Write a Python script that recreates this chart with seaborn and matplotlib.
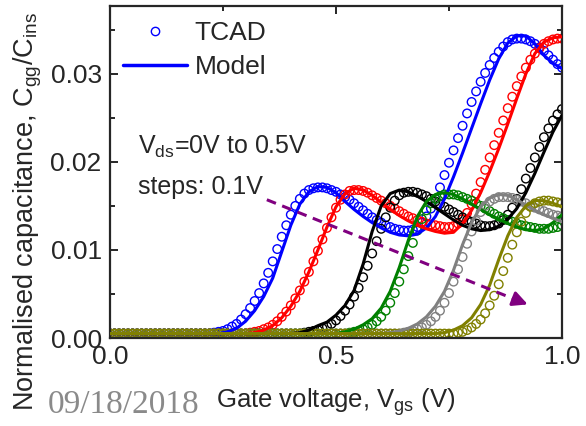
import matplotlib
matplotlib.use("Agg")
import matplotlib.pyplot as plt
from matplotlib.lines import Line2D
from matplotlib.ticker import MultipleLocator, FormatStrFormatter
import numpy as np
import pandas as pd
import seaborn as sns

# Vds sweep 0 V .. 0.5 V, one colour per step
VDS_LABELS = ["0.0", "0.1", "0.2", "0.3", "0.4", "0.5"]
COLORS = ["#0000FF", "#FF0000", "#000000", "#008000", "#808080", "#808000"]

# gate voltage grids (TCAD every 10 mV, model every 20 mV)
VGS_TCAD = np.round(np.arange(101) * 0.01, 2)
VGS_MODEL = np.round(np.arange(51) * 0.02, 2)

# TCAD points, Cgg/Cins
TCAD_VDS_00 = [0.0005] * 23 + [
    0.0006, 0.0007, 0.0008, 0.0010, 0.0013, 0.0016, 0.0021, 0.0027, 0.0034, 0.0042,
    0.0051, 0.0062, 0.0074, 0.0087, 0.0101, 0.0115, 0.0128, 0.0140, 0.0150, 0.0158,
    0.0164, 0.0168, 0.0170, 0.0171, 0.0171, 0.0170, 0.0168, 0.0166, 0.0163, 0.0160,
    0.0157, 0.0153, 0.0149, 0.0145, 0.0141, 0.0137, 0.0134, 0.0131, 0.0128, 0.0126,
    0.0124, 0.0123, 0.0122, 0.0122, 0.0123, 0.0126, 0.0131, 0.0138, 0.0147, 0.0158,
    0.0171, 0.0185, 0.0199, 0.0213, 0.0227, 0.0241, 0.0255, 0.0268, 0.0280, 0.0291,
    0.0301, 0.0310, 0.0318, 0.0325, 0.0331, 0.0336, 0.0339, 0.0340, 0.0340, 0.0339,
    0.0337, 0.0334, 0.0330, 0.0326, 0.0321, 0.0316, 0.0311, 0.0307]
TCAD_VDS_01 = [0.0005] * 31 + [
    0.0006, 0.0007, 0.0008, 0.0010, 0.0012, 0.0015, 0.0019, 0.0024, 0.0030, 0.0037,
    0.0045, 0.0054, 0.0064, 0.0075, 0.0087, 0.0099, 0.0112, 0.0125, 0.0137, 0.0148,
    0.0157, 0.0163, 0.0167, 0.0168, 0.0168, 0.0167, 0.0165, 0.0162, 0.0159, 0.0156,
    0.0153, 0.0150, 0.0147, 0.0144, 0.0141, 0.0138, 0.0136, 0.0134, 0.0132, 0.0130,
    0.0129, 0.0128, 0.0127, 0.0126, 0.0126, 0.0127, 0.0130, 0.0135, 0.0142, 0.0152,
    0.0164, 0.0177, 0.0191, 0.0205, 0.0219, 0.0233, 0.0247, 0.0261, 0.0274, 0.0286,
    0.0297, 0.0307, 0.0316, 0.0323, 0.0329, 0.0334, 0.0337, 0.0339, 0.0340, 0.0340]
TCAD_VDS_02 = [0.0005] * 43 + [
    0.0006, 0.0007, 0.0008, 0.0009, 0.0011, 0.0013, 0.0016, 0.0020, 0.0025, 0.0031,
    0.0038, 0.0047, 0.0057, 0.0069, 0.0082, 0.0096, 0.0110, 0.0124, 0.0137, 0.0148,
    0.0156, 0.0162, 0.0165, 0.0166, 0.0166, 0.0165, 0.0163, 0.0161, 0.0158, 0.0155,
    0.0152, 0.0149, 0.0146, 0.0143, 0.0140, 0.0137, 0.0134, 0.0132, 0.0130, 0.0128,
    0.0127, 0.0127, 0.0128, 0.0130, 0.0134, 0.0140, 0.0148, 0.0158, 0.0169, 0.0181,
    0.0193, 0.0205, 0.0217, 0.0228, 0.0238, 0.0247, 0.0254, 0.0260]
TCAD_VDS_03 = [0.0005] * 53 + [
    0.0006, 0.0007, 0.0008, 0.0010, 0.0012, 0.0015, 0.0019, 0.0024, 0.0031, 0.0040,
    0.0051, 0.0064, 0.0078, 0.0093, 0.0108, 0.0122, 0.0135, 0.0145, 0.0153, 0.0158,
    0.0161, 0.0163, 0.0163, 0.0163, 0.0162, 0.0160, 0.0158, 0.0156, 0.0153, 0.0150,
    0.0147, 0.0144, 0.0141, 0.0138, 0.0136, 0.0134, 0.0132, 0.0130, 0.0128, 0.0127,
    0.0126, 0.0125, 0.0124, 0.0124, 0.0124, 0.0125, 0.0126, 0.0128]
TCAD_VDS_04 = [0.0005] * 65 + [
    0.0006, 0.0007, 0.0008, 0.0010, 0.0012, 0.0015, 0.0019, 0.0024, 0.0031, 0.0040,
    0.0051, 0.0064, 0.0078, 0.0092, 0.0107, 0.0121, 0.0133, 0.0143, 0.0150, 0.0155,
    0.0158, 0.0160, 0.0160, 0.0160, 0.0159, 0.0157, 0.0155, 0.0153, 0.0150, 0.0148,
    0.0146, 0.0144, 0.0142, 0.0140, 0.0139, 0.0138]
TCAD_VDS_05 = [0.0005] * 77 + [
    0.0006, 0.0007, 0.0009, 0.0012, 0.0016, 0.0021, 0.0028, 0.0037, 0.0048, 0.0061,
    0.0076, 0.0091, 0.0106, 0.0120, 0.0132, 0.0142, 0.0149, 0.0153, 0.0155, 0.0156,
    0.0156, 0.0155, 0.0154, 0.0153]

# compact model curves, Cgg/Cins
MODEL_VDS_00 = [0.0005] * 13 + [
    0.0007, 0.0011, 0.0019, 0.0031, 0.0047, 0.0068, 0.0098, 0.0128, 0.0152, 0.0166,
    0.0172, 0.0171, 0.0165, 0.0155, 0.0146, 0.0138, 0.0131, 0.0125, 0.0120, 0.0117,
    0.0116, 0.0118, 0.0125, 0.0138, 0.0158, 0.0183, 0.0210, 0.0238, 0.0266, 0.0293,
    0.0317, 0.0335, 0.0343, 0.0343, 0.0334, 0.0321, 0.0312, 0.0306]
MODEL_VDS_01 = [0.0005] * 16 + [
    0.0006, 0.0009, 0.0014, 0.0023, 0.0036, 0.0053, 0.0075, 0.0100, 0.0126, 0.0149,
    0.0164, 0.0170, 0.0168, 0.0162, 0.0154, 0.0146, 0.0139, 0.0133, 0.0128, 0.0124,
    0.0121, 0.0119, 0.0120, 0.0130, 0.0145, 0.0165, 0.0189, 0.0215, 0.0243, 0.0272,
    0.0300, 0.0323, 0.0336, 0.0341, 0.0342]
MODEL_VDS_02 = [0.0005] * 21 + [
    0.0006, 0.0009, 0.0014, 0.0018, 0.0026, 0.0037, 0.0054, 0.0084, 0.0121, 0.0150,
    0.0164, 0.0168, 0.0166, 0.0161, 0.0155, 0.0148, 0.0141, 0.0134, 0.0128, 0.0124,
    0.0122, 0.0123, 0.0127, 0.0135, 0.0147, 0.0165, 0.0187, 0.0211, 0.0234, 0.0253]
MODEL_VDS_03 = [0.0005] * 26 + [
    0.0007, 0.0010, 0.0015, 0.0022, 0.0034, 0.0053, 0.0080, 0.0111, 0.0138, 0.0155,
    0.0163, 0.0165, 0.0163, 0.0158, 0.0152, 0.0146, 0.0140, 0.0135, 0.0130, 0.0126,
    0.0123, 0.0122, 0.0124, 0.0131, 0.0140]
MODEL_VDS_04 = [0.0005] * 31 + [
    0.0006, 0.0008, 0.0011, 0.0016, 0.0024, 0.0036, 0.0053, 0.0077, 0.0106, 0.0131,
    0.0149, 0.0159, 0.0163, 0.0162, 0.0157, 0.0151, 0.0145, 0.0140, 0.0136, 0.0132]
MODEL_VDS_05 = [0.0005] * 37 + [
    0.0006, 0.0009, 0.0014, 0.0023, 0.0038, 0.0060, 0.0089, 0.0116, 0.0137, 0.0150,
    0.0156, 0.0156, 0.0153, 0.0149]

TCAD_SERIES = [TCAD_VDS_00, TCAD_VDS_01, TCAD_VDS_02, TCAD_VDS_03, TCAD_VDS_04, TCAD_VDS_05]
MODEL_SERIES = [MODEL_VDS_00, MODEL_VDS_01, MODEL_VDS_02, MODEL_VDS_03, MODEL_VDS_04, MODEL_VDS_05]

# purple "increasing Vds" arrow, in data coordinates
ARROW_START = (0.347, 0.0157)
ARROW_END = (0.93, 0.0037)

tcad_df = pd.concat([
    pd.DataFrame({"vgs": VGS_TCAD, "cgg": vals, "vds": lab})
    for lab, vals in zip(VDS_LABELS, TCAD_SERIES)
])
model_df = pd.concat([
    pd.DataFrame({"vgs": VGS_MODEL, "cgg": vals, "vds": lab})
    for lab, vals in zip(VDS_LABELS, MODEL_SERIES)
])

sns.set_style("ticks")
plt.rcParams.update({
    "font.family": ["Liberation Sans", "DejaVu Sans"],
    "mathtext.fontset": "custom",
    "mathtext.rm": "Liberation Sans",
    "mathtext.it": "Liberation Sans",
    "font.size": 18,
    "axes.linewidth": 1.6,
    "xtick.direction": "in",
    "ytick.direction": "in",
})

fig = plt.figure(figsize=(5.86, 4.26), dpi=100)
ax = fig.add_axes([110 / 586, 1 - 338 / 426, 452 / 586, 332 / 426])

for lab, color in zip(VDS_LABELS, COLORS):
    sns.scatterplot(data=tcad_df[tcad_df["vds"] == lab], x="vgs", y="cgg", ax=ax,
                    marker="o", s=38, facecolor="none", edgecolor=color,
                    linewidth=1.0, legend=False, zorder=2)
    sns.lineplot(data=model_df[model_df["vds"] == lab], x="vgs", y="cgg", ax=ax,
                 color=color, lw=2.2, estimator=None, sort=False, legend=False, zorder=3)

# dashed arrow
ax.plot([ARROW_START[0], ARROW_END[0] - 0.03], [ARROW_START[1], ARROW_END[1] + 0.0006],
        color="#800080", lw=2.2, ls=(0, (3.2, 2.2)), zorder=4)
ax.annotate("", xy=ARROW_END, xytext=(ARROW_END[0] - 0.04, ARROW_END[1] + 0.0008),
            arrowprops=dict(arrowstyle="-|>", color="#800080", lw=2.2, mutation_scale=22),
            zorder=4)

ax.text(0.062, 0.0217, r"V$_{\rm ds}$=0V to 0.5V", fontsize=18, va="center", ha="left")
ax.text(0.062, 0.0172, "steps: 0.1V", fontsize=18, va="center", ha="left")

ax.set_xlim(0, 1.0)
ax.set_ylim(0, 0.0377)
ax.xaxis.set_major_locator(MultipleLocator(0.5))
ax.xaxis.set_minor_locator(MultipleLocator(0.25))
ax.yaxis.set_major_locator(MultipleLocator(0.01))
ax.yaxis.set_minor_locator(MultipleLocator(0.005))
ax.xaxis.set_major_formatter(FormatStrFormatter("%.1f"))
ax.yaxis.set_major_formatter(FormatStrFormatter("%.2f"))
ax.tick_params(which="both", top=True, right=True, width=1.4, labelsize=19)
ax.tick_params(which="major", length=6)
ax.tick_params(which="minor", length=3.5)
ax.tick_params(axis="y", pad=6)
ax.tick_params(axis="x", pad=5)

ax.set_xlabel(r"Gate voltage, V$_{\rm gs}$ (V)", fontsize=18.5)
ax.set_ylabel(r"Normalised capacitance, C$_{\rm gg}$/C$_{\rm ins}$", fontsize=19.5)
ax.xaxis.set_label_coords(0.5, -0.145)
ax.yaxis.set_label_coords(-0.145, 0.38)

handles = [
    Line2D([], [], marker="o", ls="none", mfc="none", mec="#0000FF", ms=6, mew=1.0),
    Line2D([], [], color="#0000FF", lw=2.5),
]
ax.legend(handles, ["TCAD", "Model"], loc="upper left", bbox_to_anchor=(0, 0.995),
          frameon=False, handlelength=2.4, handletextpad=0.3, borderaxespad=0.1,
          labelspacing=0.38, fontsize=19)

fig.text(48 / 586, 1 - 405 / 426, "09/18/2018", fontsize=24, color="#8a8a8a",
         family=["Liberation Serif", "DejaVu Serif"], va="center", ha="left")

fig.savefig("out.png", dpi=100)
plt.close(fig)
